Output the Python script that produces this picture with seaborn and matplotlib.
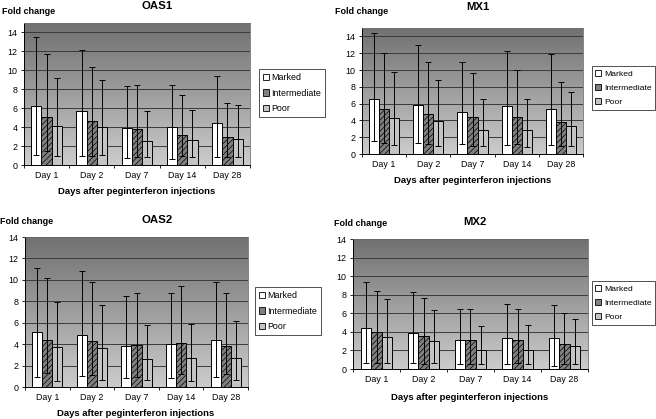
import numpy as np
import pandas as pd
import matplotlib
matplotlib.use("Agg")
import matplotlib.pyplot as plt
import seaborn as sns
from matplotlib.patches import Patch

days = ["Day 1", "Day 2", "Day 7", "Day 14", "Day 28"]
groups = ["Marked", "Intermediate", "Poor"]

# rows: Marked, Intermediate, Poor ; columns: days
oas1_mean = [[6.2, 5.7, 3.9, 4.0, 4.4],
             [5.1, 4.6, 3.8, 3.2, 3.0],
             [4.1, 4.0, 2.5, 2.6, 2.7]]
oas1_hi = [[13.5, 12.2, 8.3, 8.5, 9.4],
           [11.7, 10.3, 8.4, 7.4, 6.6],
           [9.2, 9.0, 5.7, 5.8, 6.3]]
oas1_lo = [[1.1, 0.9, 0.7, 0.6, 0.8],
           [1.5, 1.0, 0.8, 0.9, 0.8],
           [1.0, 1.1, 0.8, 0.8, 0.8]]

mx1_mean = [[6.6, 5.8, 5.0, 5.7, 5.4],
            [5.3, 4.8, 4.4, 4.4, 3.8],
            [4.3, 3.9, 2.9, 2.9, 3.3]]
mx1_hi = [[14.4, 13.0, 11.0, 12.3, 11.9],
          [12.0, 11.0, 9.7, 10.0, 8.6],
          [9.8, 8.8, 6.6, 6.5, 7.4]]
mx1_lo = [[1.5, 1.3, 1.2, 1.1, 1.1],
          [1.3, 1.2, 1.0, 1.2, 1.0],
          [1.1, 1.0, 0.9, 0.8, 1.0]]

oas2_mean = [[5.1, 4.9, 3.8, 4.0, 4.4],
             [4.4, 4.3, 3.9, 4.1, 3.8],
             [3.7, 3.6, 2.6, 2.7, 2.7]]
oas2_hi = [[11.1, 10.8, 8.5, 8.8, 9.8],
           [10.2, 9.8, 8.8, 9.4, 8.8],
           [7.9, 7.7, 5.8, 5.9, 6.2]]
oas2_lo = [[0.9, 1.0, 0.8, 0.8, 0.9],
           [1.3, 1.1, 0.9, 1.2, 1.2],
           [0.6, 0.7, 0.7, 0.6, 0.7]]

mx2_mean = [[4.4, 3.9, 3.1, 3.3, 3.3],
            [4.0, 3.6, 3.1, 3.1, 2.7],
            [3.5, 3.0, 2.0, 2.1, 2.5]]
mx2_hi = [[9.4, 8.3, 6.5, 7.0, 6.9],
          [8.4, 7.6, 6.5, 6.5, 6.0],
          [7.5, 6.4, 4.6, 4.7, 5.4]]
mx2_lo = [[0.6, 0.6, 0.5, 0.5, 0.3],
          [0.6, 0.5, 0.5, 0.6, 0.5],
          [0.7, 0.6, 0.5, 0.5, 0.5]]

bar_colors = {"Marked": "#ffffff", "Intermediate": "#808080", "Poor": "#c4c4c4"}
hatches = {"Marked": "", "Intermediate": "//////", "Poor": ""}

plt.rcParams["font.family"] = ["Liberation Sans", "DejaVu Sans"]
plt.rcParams["hatch.linewidth"] = 0.5
plt.rcParams["hatch.color"] = "#333333"


def draw_panel(fig, rect, title, mean, hi, lo, ymax, title_xy, ylab_xy, xlab_xy, leg_xy, leg_fs):
    ax = fig.add_axes(rect)
    df = pd.DataFrame({
        "day": days * len(groups),
        "group": np.repeat(groups, len(days)),
        "fold": np.concatenate(mean),
    })
    sns.barplot(data=df, x="day", y="fold", hue="group", palette=bar_colors,
                edgecolor="black", linewidth=0.7, width=0.68, errorbar=None,
                legend=False, ax=ax, zorder=3)

    # error bars from lower to upper value
    for cont, g, m, h, l in zip(ax.containers, groups, mean, hi, lo):
        xs = [b.get_x() + b.get_width() / 2 for b in cont]
        for b in cont:
            b.set_hatch(hatches[g])
        m = np.array(m)
        ax.errorbar(xs, m, yerr=[m - np.array(l), np.array(h) - m], fmt="none",
                    ecolor="black", elinewidth=0.7, capsize=2.5, capthick=0.7, zorder=4)

    # gray gradient background (light at bottom, darker at top)
    shade = np.linspace(0.80, 0.44, 256)
    grad = np.repeat(shade[:, None, None], 3, axis=2)
    ax.imshow(grad, extent=[0, 1, 0, 1], transform=ax.transAxes, origin="lower",
              aspect="auto", zorder=0)

    ax.set_xlim(-0.5, len(days) - 0.5)
    ax.set_ylim(0, ymax)
    ax.set_yticks(range(0, 15, 2))
    for yv in range(2, 15, 2):
        ax.axhline(yv, color="#3a3a3a", lw=0.7, zorder=1)
    ax.set_xticks(np.arange(-0.5, len(days), 1), minor=True)
    ax.tick_params(axis="x", which="major", length=0, labelsize=6.4, pad=4)
    ax.tick_params(axis="x", which="minor", length=2.5, width=0.6)
    ax.tick_params(axis="y", length=2.5, width=0.6, labelsize=6.4, pad=2)
    ax.set_xlabel("")
    ax.set_ylabel("")
    for s in ["left", "bottom"]:
        ax.spines[s].set_color("black")
        ax.spines[s].set_linewidth(0.7)
    for s in ["top", "right"]:
        ax.spines[s].set_color("#707070")
        ax.spines[s].set_linewidth(0.6)

    fig.text(title_xy[0] / 656, 1 - title_xy[1] / 419, title, ha="center", va="center",
             fontsize=8.2, fontweight="bold")
    fig.text(ylab_xy[0] / 656, 1 - ylab_xy[1] / 419, "Fold change", ha="left", va="center",
             fontsize=6.5, fontweight="bold")
    fig.text(xlab_xy[0] / 656, 1 - xlab_xy[1] / 419, "Days after peginterferon injections",
             ha="center", va="center", fontsize=6.8, fontweight="bold")

    handles = [Patch(facecolor=bar_colors[g], edgecolor="black", linewidth=0.6, label=g)
               for g in groups]
    leg = ax.legend(handles=handles, loc="center left",
                    bbox_to_anchor=(leg_xy[0] / 656, 1 - leg_xy[1] / 419),
                    bbox_transform=fig.transFigure, fontsize=leg_fs, frameon=True,
                    fancybox=False, handlelength=0.7, handleheight=0.7,
                    handletextpad=0.3, labelspacing=0.75, borderpad=0.4,
                    borderaxespad=0)
    leg.get_frame().set_edgecolor("black")
    leg.get_frame().set_linewidth(0.6)
    return ax


fig = plt.figure(figsize=(6.56, 4.19), dpi=100)
draw_panel(fig, [24 / 656, 1 - 165 / 419, 226 / 656, 142 / 419], "OAS1",
           oas1_mean, oas1_hi, oas1_lo, 15,
           (157, 6), (2, 12), (137, 192), (259, 93), 6.4)
draw_panel(fig, [362 / 656, 1 - 154 / 419, 221 / 656, 126 / 419], "MX1",
           mx1_mean, mx1_hi, mx1_lo, 15,
           (478, 7), (335, 11), (473, 180), (592, 88), 6.1)
draw_panel(fig, [25 / 656, 1 - 387 / 419, 223 / 656, 150 / 419], "OAS2",
           oas2_mean, oas2_hi, oas2_lo, 14,
           (157, 220), (0, 221), (136, 413), (255, 311), 6.4)
draw_panel(fig, [353 / 656, 1 - 369 / 419, 235 / 656, 130 / 419], "MX2",
           mx2_mean, mx2_hi, mx2_lo, 14,
           (475, 222), (334, 223), (470, 397), (592, 303), 6.1)

fig.savefig("out.png", dpi=100)
